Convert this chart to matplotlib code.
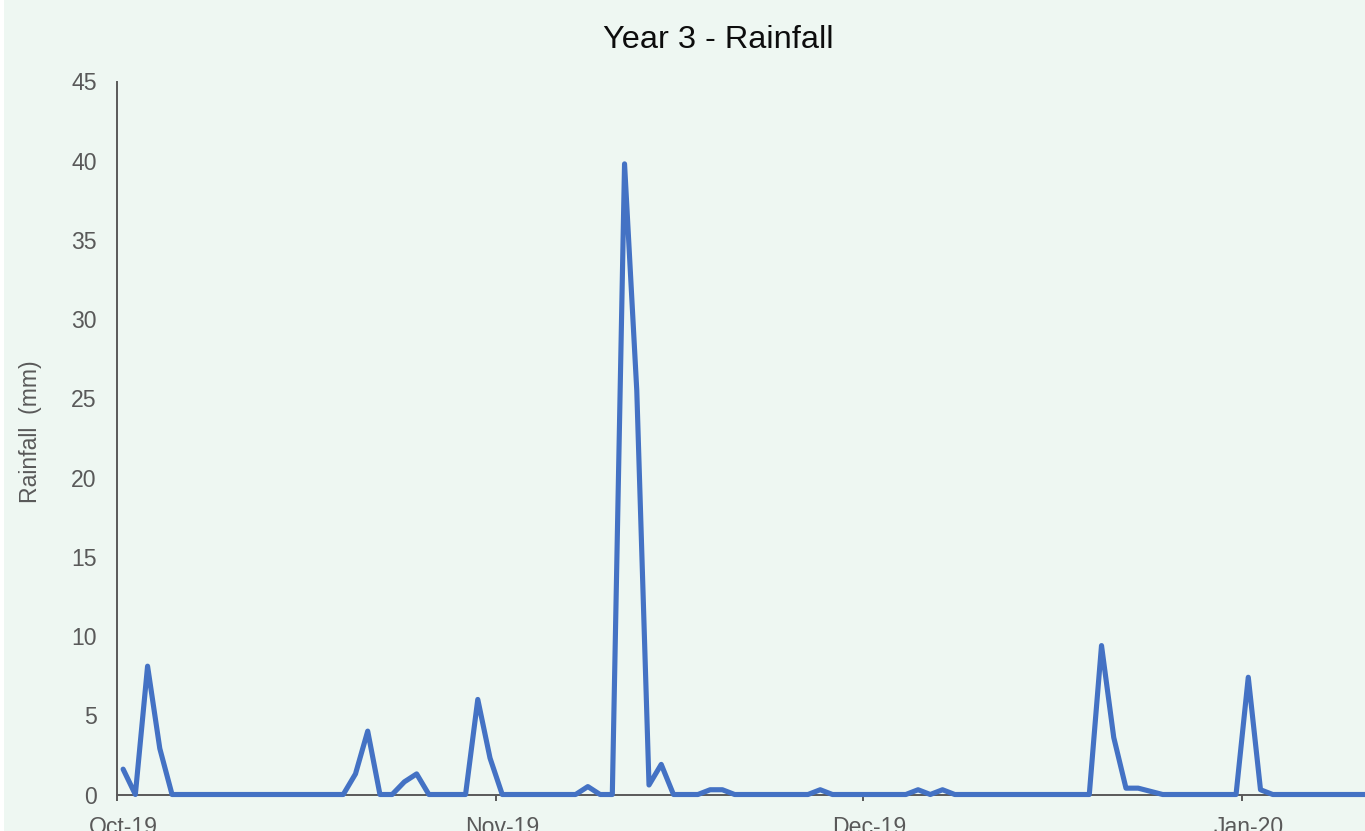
import matplotlib
matplotlib.use("Agg")
import matplotlib.pyplot as plt
import matplotlib.dates as mdates
from matplotlib.patches import Rectangle
import numpy as np
import datetime as dt

# Daily rainfall (mm) from 1 Oct 2019
start_date = dt.date(2019, 10, 1)
rainfall_mm = [
    1.6, 0, 8.1, 2.9, 0, 0, 0, 0, 0, 0,          # Oct 1-10
    0, 0, 0, 0, 0, 0, 0, 0, 0, 1.3,              # Oct 11-20
    4.0, 0, 0, 0.8, 1.3, 0, 0, 0, 0, 6.0,        # Oct 21-30
    2.3,                                         # Oct 31
    0, 0, 0, 0, 0, 0, 0, 0.5, 0, 0,              # Nov 1-10
    39.8, 25.5, 0.6, 1.9, 0, 0, 0, 0.3, 0.3, 0,  # Nov 11-20
    0, 0, 0, 0, 0, 0, 0.3, 0, 0, 0,              # Nov 21-30
    0, 0, 0, 0, 0.3, 0, 0.3, 0, 0, 0,            # Dec 1-10
    0, 0, 0, 0, 0, 0, 0, 0, 0, 9.4,              # Dec 11-20
    3.6, 0.4, 0.4, 0.2, 0, 0, 0, 0, 0, 0,        # Dec 21-30
    0,                                           # Dec 31
    7.4, 0.3, 0, 0, 0, 0, 0, 0, 0, 0, 0,         # Jan 1-11
]
month_ticks = [dt.date(2019, 10, 1), dt.date(2019, 11, 1),
               dt.date(2019, 12, 1), dt.date(2020, 1, 1)]
month_labels = ["Oct-19", "Nov-19", "Dec-19", "Jan-20"]
y_ticks = [0, 5, 10, 15, 20, 25, 30, 35, 40, 45]

title = "Year 3 - Rainfall"
y_label = "Rainfall  (mm)"

plt.rcParams["font.family"] = ["Liberation Sans", "DejaVu Sans"]

W, H = 1365, 831
fig = plt.figure(figsize=(W / 100, H / 100), dpi=100, facecolor="white")
bg = "#EEF7F2"
fig.patches.append(Rectangle((4 / W, 0), 1 - 4 / W, 1, transform=fig.transFigure,
                             facecolor=bg, edgecolor="none", zorder=-10))

ax_left = 117 / W
ax_bottom = 1 - 794.5 / H
ax_top = 1 - 81.5 / H
ax = fig.add_axes([ax_left, ax_bottom, 1 - ax_left, ax_top - ax_bottom])
ax.set_facecolor("none")

# each day is drawn in the middle of its date slot
day0 = mdates.date2num(start_date)
x = day0 + np.arange(len(rainfall_mm)) + 0.5
ax.plot(x, rainfall_mm, color="#4472C4", linewidth=3.7, solid_joinstyle="round",
        solid_capstyle="round", clip_on=False, zorder=3)

days_per_px = 1 / 12.23
ax.set_xlim(day0, day0 + (W - 117) * days_per_px)
ax.set_ylim(0, 45)

grey = "#595959"
for side in ["top", "right"]:
    ax.spines[side].set_visible(False)
for side in ["left", "bottom"]:
    ax.spines[side].set_color(grey)
    ax.spines[side].set_linewidth(1.4)

ax.set_yticks(y_ticks)
ax.set_yticklabels([str(v) for v in y_ticks])
ax.tick_params(axis="y", length=0, pad=14.5, labelsize=16.6, labelcolor=grey)

major = [mdates.date2num(d) for d in month_ticks]
ax.set_xticks(major)
ax.set_xticklabels([""] * len(major))
ax.set_xticks([m + 0.5 for m in major], minor=True)
ax.set_xticklabels(month_labels, minor=True)
ax.tick_params(axis="x", which="major", length=4.5, width=1.4, color=grey, direction="out")
ax.tick_params(axis="x", which="minor", length=0, pad=15.5, labelsize=16.6, labelcolor=grey)

fig.text(718 / W, 1 - 48.5 / H, title, ha="center", va="baseline",
         fontsize=23.4, color="#0D0D0D")
fig.text(31 / W, 1 - 432 / H, y_label, ha="center", va="center", rotation=90,
         fontsize=16.6, color=grey)

fig.savefig("out.png", dpi=100, facecolor=fig.get_facecolor())
